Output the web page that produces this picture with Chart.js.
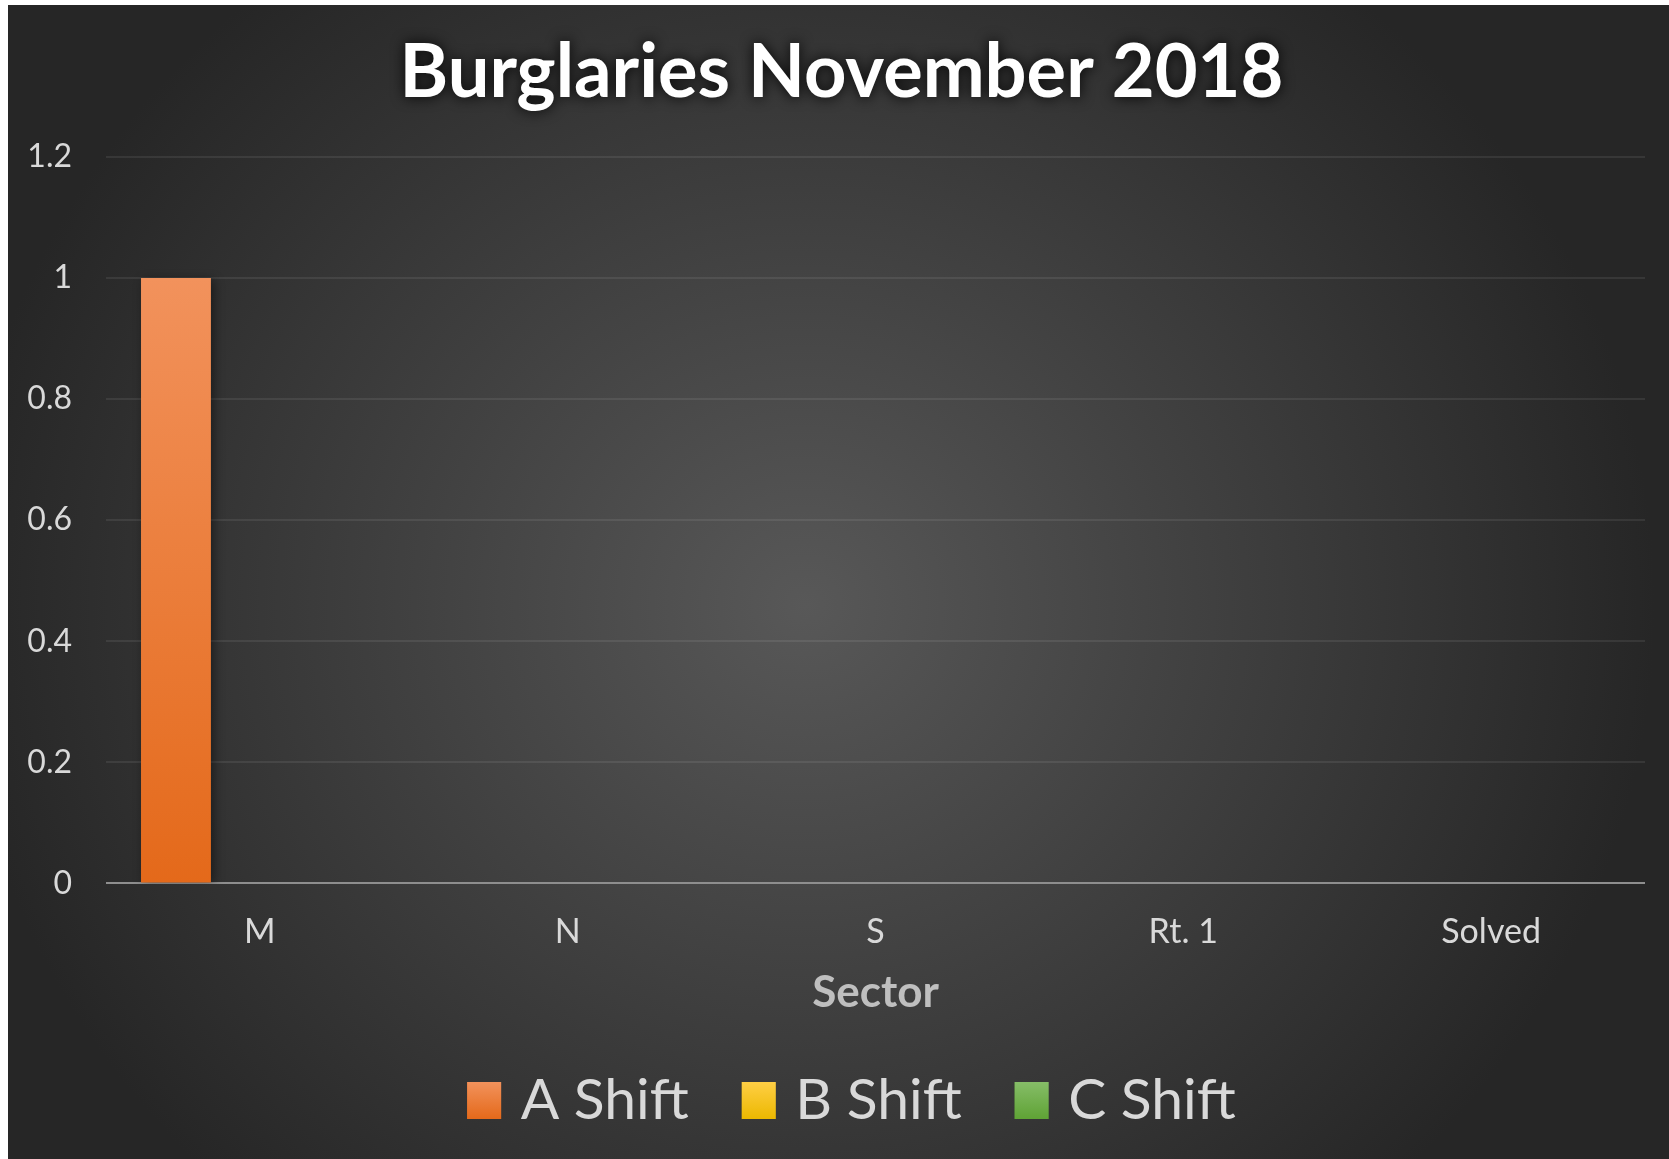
<!DOCTYPE html>
<html>
<head>
<meta charset="utf-8">
<title>Burglaries November 2018</title>
<script src="https://cdn.jsdelivr.net/npm/chart.js@4.4.1/dist/chart.umd.min.js"></script>
<style>
  html, body { margin: 0; padding: 0; background: #ffffff; }
  #wrap {
    position: absolute;
    left: 8px;
    top: 5px;
    width: 1661px;
    height: 1154px;
    background: radial-gradient(ellipse 850px 800px at 48% 52%, #585858 0%, #262626 100%);
  }
</style>
</head>
<body>
<div id="wrap"><canvas id="chart"></canvas></div>
<script>
const sectors = ["M", "N", "S", "Rt. 1", "Solved"];
const aShift = [1, 0, 0, 0, 0];
const bShift = [0, 0, 0, 0, 0];
const cShift = [0, 0, 0, 0, 0];
const yTickLabels = ["0", "0.2", "0.4", "0.6", "0.8", "1", "1.2"];

const FONT = "Lato, 'Open Sans', 'DejaVu Sans', sans-serif";
const LEGEND_BOX = 34; // drawn size of the legend swatch
const LEGEND_SHIFT = 10; // legend sits a little right of the title centre

// top / bottom colours of each series gradient
const seriesColors = [
  ["#f2925c", "#e4691a"],
  ["#ffcf45", "#ecb800"],
  ["#86bd68", "#5fa335"]
];

function barFill(stops) {
  return (ctx) => {
    const chart = ctx.chart;
    if (!chart.chartArea || ctx.type !== "data") return stops[1];
    const y = chart.scales.y;
    const top = y.getPixelForValue(ctx.parsed.y);
    const bottom = y.getPixelForValue(0);
    if (bottom - top < 1) return stops[1];
    const g = chart.ctx.createLinearGradient(0, top, 0, bottom);
    g.addColorStop(0, stops[0]);
    g.addColorStop(1, stops[1]);
    return g;
  };
}

const barShadow = {
  id: "barShadow",
  beforeDatasetsDraw(chart) {
    const ctx = chart.ctx;
    ctx.save();
    ctx.shadowColor = "rgba(0, 0, 0, 0.45)";
    ctx.shadowBlur = 10;
    ctx.shadowOffsetX = 3;
    ctx.shadowOffsetY = 2;
  },
  afterDatasetsDraw(chart) {
    chart.ctx.restore();
  }
};

const titleGlow = {
  id: "titleGlow",
  afterInit(chart) {
    const block = chart.titleBlock;
    if (!block) return;
    const draw = block.draw;
    block.draw = function () {
      const ctx = chart.ctx;
      ctx.save();
      ctx.shadowColor = "rgba(0, 0, 0, 0.95)";
      ctx.shadowBlur = 14;
      draw.call(this);
      ctx.restore();
    };
  },
  afterLayout(chart) {
    // y labels hang past the left layout padding; keep them from being clipped
    chart.scales.y.left = 0;
    if (chart.legend) {
      chart.legend.left += LEGEND_SHIFT;
      chart.legend.right += LEGEND_SHIFT;
    }
  }
};

// legend swatches: gradient like the bars, a bit wider than the text offset allows
const legendSwatch = {
  id: "legendSwatch",
  afterDraw(chart) {
    const legend = chart.legend;
    if (!legend || !legend.legendHitBoxes) return;
    const ctx = chart.ctx;
    const boxH = legend.options.labels.boxHeight;
    const fontSize = legend.options.labels.font.size;
    legend.legendItems.forEach((item, i) => {
      const hb = legend.legendHitBoxes[i];
      if (!hb) return;
      const top = hb.top + Math.max((fontSize - boxH) / 2, 0);
      const stops = seriesColors[item.datasetIndex];
      const g = ctx.createLinearGradient(0, top, 0, top + boxH);
      g.addColorStop(0, stops[0]);
      g.addColorStop(1, stops[1]);
      ctx.save();
      ctx.fillStyle = g;
      ctx.fillRect(hb.left, top, LEGEND_BOX, boxH);
      ctx.restore();
    });
  }
};

new Chart(document.getElementById("chart"), {
  type: "bar",
  data: {
    labels: sectors,
    datasets: [
      { label: "A Shift", data: aShift, backgroundColor: barFill(seriesColors[0]), borderWidth: 0 },
      { label: "B Shift", data: bShift, backgroundColor: barFill(seriesColors[1]), borderWidth: 0 },
      { label: "C Shift", data: cShift, backgroundColor: barFill(seriesColors[2]), borderWidth: 0 }
    ]
  },
  options: {
    responsive: true,
    maintainAspectRatio: false,
    animation: false,
    datasets: {
      bar: { categoryPercentage: 0.818, barPercentage: 0.833 }
    },
    layout: { padding: { left: 30, right: 24, top: 0, bottom: 20 } },
    scales: {
      x: {
        grid: { display: false, drawTicks: true, tickLength: 28 },
        border: { display: false },
        ticks: {
          color: "#d9d9d9",
          padding: 0,
          font: { family: FONT, size: 34 }
        },
        title: {
          display: true,
          text: "Sector",
          color: "#bfbfbf",
          font: { family: FONT, size: 44, weight: "bold" },
          padding: { top: 14, bottom: 0 }
        }
      },
      y: {
        min: 0,
        max: 1.2,
        ticks: {
          stepSize: 0.2,
          color: "#d9d9d9",
          padding: 34,
          font: { family: FONT, size: 32 },
          callback: (value, index) => yTickLabels[index]
        },
        grid: {
          drawTicks: false,
          lineWidth: 2,
          color: (ctx) => (ctx.tick && ctx.tick.value === 0 ? "#8e8e8e" : "rgba(255, 255, 255, 0.08)")
        },
        border: { display: false },
        afterFit: (scale) => { scale.width = 68; }
      }
    },
    plugins: {
      title: {
        display: true,
        text: "Burglaries November 2018",
        color: "#ffffff",
        font: { family: FONT, size: 74, weight: "bold" },
        padding: { top: 24, bottom: 39 }
      },
      legend: {
        position: "bottom",
        labels: {
          color: "#d9d9d9",
          font: { family: FONT, size: 57 },
          boxWidth: 25,
          boxHeight: 37,
          padding: 53
        }
      },
      tooltip: { enabled: false }
    }
  },
  plugins: [barShadow, titleGlow, legendSwatch]
});
</script>
</body>
</html>
